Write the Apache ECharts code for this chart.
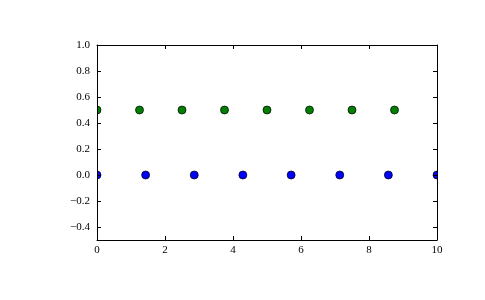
<!DOCTYPE html>
<html><head><meta charset="utf-8">
<script src="https://cdn.jsdelivr.net/npm/echarts@6/dist/echarts.min.js"></script>
<style>html,body{margin:0;padding:0;background:#fff}#c{width:485px;height:300px}</style>
</head><body><div id="c"></div>
<script>
const greenX = [0, 1.25, 2.5, 3.75, 5, 6.25, 7.5, 8.75];
const greenY = [0.5, 0.5, 0.5, 0.5, 0.5, 0.5, 0.5, 0.5];
const blueX = [0, 1.43, 2.86, 4.29, 5.71, 7.14, 8.57, 10];
const blueY = [0, 0, 0, 0, 0, 0, 0, 0];
const xTicks = [0, 2, 4, 6, 8, 10];
const yTicks = [-0.4, -0.2, 0, 0.2, 0.4, 0.6, 0.8, 1.0];

const font = {fontFamily: 'Liberation Serif', fontSize: 11, color: '#000'};
const fmtY = v => (v < 0 ? '\u2212' : '') + Math.abs(v).toFixed(1);
const tick = {show: true, inside: true, length: 4, lineStyle: {color: '#000', width: 1}, customValues: null};

const chart = echarts.init(document.getElementById('c'), null, {renderer: 'canvas'});
chart.setOption({
  animation: false,
  grid: {left: 97, top: 45, right: 48, bottom: 60, show: false},
  xAxis: [
    {type: 'value', min: 0, max: 10, interval: 2, position: 'bottom', z: 20,
     axisLine: {show: true, onZero: false, lineStyle: {color: '#000', width: 1}},
     axisTick: Object.assign({}, tick, {customValues: xTicks}),
     axisLabel: Object.assign({}, font, {margin: 5, customValues: xTicks}),
     splitLine: {show: false}},
    {type: 'value', min: 0, max: 10, interval: 2, position: 'top', z: 20,
     axisLine: {show: true, onZero: false, lineStyle: {color: '#000', width: 1}},
     axisTick: Object.assign({}, tick, {customValues: xTicks}),
     axisLabel: {show: false}, splitLine: {show: false}}
  ],
  yAxis: [
    {type: 'value', min: -0.5, max: 1.0, interval: 0.1, position: 'left', z: 20,
     axisLine: {show: true, onZero: false, lineStyle: {color: '#000', width: 1}},
     axisTick: Object.assign({}, tick, {customValues: yTicks}),
     axisLabel: Object.assign({}, font, {margin: 7, formatter: fmtY, customValues: yTicks}),
     splitLine: {show: false}},
    {type: 'value', min: -0.5, max: 1.0, interval: 0.1, position: 'right', z: 20,
     axisLine: {show: true, onZero: false, lineStyle: {color: '#000', width: 1}},
     axisTick: Object.assign({}, tick, {customValues: yTicks}),
     axisLabel: {show: false}, splitLine: {show: false}}
  ],
  graphic: [
    {type: 'rect', z: 10, shape: {x: 91.5, y: 46, width: 5.5, height: 193}, style: {fill: '#fff'}},
    {type: 'rect', z: 10, shape: {x: 437.5, y: 46, width: 6, height: 193}, style: {fill: '#fff'}}
  ],
  series: [
    {type: 'scatter', z: 2, symbol: 'circle', symbolSize: 8,
     itemStyle: {color: '#008000', borderColor: '#000', borderWidth: 0.7, opacity: 1},
     data: greenX.map((x, i) => [x, greenY[i]])},
    {type: 'scatter', z: 2, symbol: 'circle', symbolSize: 8,
     itemStyle: {color: '#0000ff', borderColor: '#000', borderWidth: 0.7, opacity: 1},
     data: blueX.map((x, i) => [x, blueY[i]])}
  ]
});
</script></body></html>
